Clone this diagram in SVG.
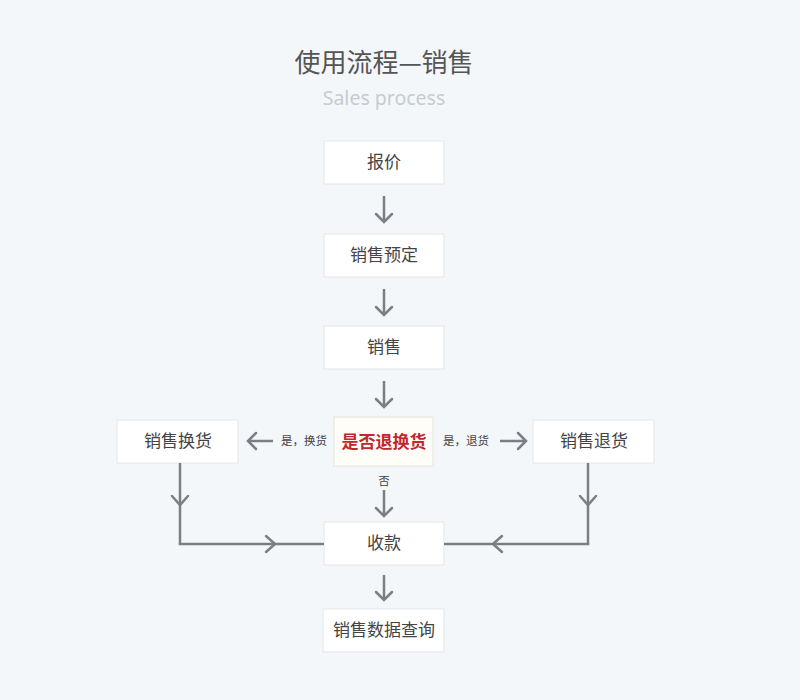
<svg xmlns="http://www.w3.org/2000/svg" width="800" height="700" viewBox="0 0 800 700">
<style>
.box{fill:#ffffff;stroke:#e1e5ea;stroke-width:1}
.t{font-family:"Noto Sans CJK SC","Noto Sans",sans-serif;font-size:17px;fill:#444;text-anchor:middle}
.lbl{font-family:"Noto Sans CJK SC","Noto Sans",sans-serif;font-size:11.5px;fill:#444;text-anchor:middle}
.ln{fill:none;stroke:#7b7f84;stroke-width:2.5;stroke-linecap:butt;stroke-linejoin:miter}
.hd{fill:none;stroke:#7b7f84;stroke-width:2.5;stroke-linecap:round;stroke-linejoin:miter}
</style>
<rect width="800" height="700" fill="#f4f7fa"/>
<text x="384" y="72" font-family="'Noto Sans CJK SC',sans-serif" font-size="26" fill="#555" text-anchor="middle">使用流程—销售</text>
<text x="384" y="105" font-family="'Noto Sans','Open Sans',sans-serif" font-size="19.5" fill="#c5cbd2" text-anchor="middle">Sales process</text>

<g id="n-quote"><rect class="box" x="324" y="141" width="120" height="43"/><text class="t" x="384" y="168">报价</text></g>
<g id="n-reserve"><rect class="box" x="324" y="234" width="120" height="43"/><text class="t" x="384" y="261">销售预定</text></g>
<g id="n-sale"><rect class="box" x="324" y="326" width="120" height="43"/><text class="t" x="384" y="353">销售</text></g>
<g id="n-decide"><rect x="334" y="417" width="99" height="49" fill="#fffdf8" stroke="#e8e4dc"/><text x="384" y="448" font-family="'Noto Sans CJK SC',sans-serif" font-size="17" font-weight="bold" fill="#c1272d" text-anchor="middle">是否退换货</text></g>
<g id="n-exchange"><rect class="box" x="117" y="420" width="121" height="43"/><text class="t" x="178" y="447">销售换货</text></g>
<g id="n-return"><rect class="box" x="533" y="420" width="121" height="43"/><text class="t" x="594" y="447">销售退货</text></g>
<g id="n-pay"><rect class="box" x="324" y="522" width="120" height="43"/><text class="t" x="384" y="549">收款</text></g>
<g id="n-query"><rect class="box" x="323" y="609" width="121" height="43"/><text class="t" x="384" y="636">销售数据查询</text></g>

<g id="connectors">
<path class="ln" d="M384 196V222"/><path class="hd" d="M376 214L384 222L392 214"/>
<path class="ln" d="M384 289V315"/><path class="hd" d="M376 307L384 315L392 307"/>
<path class="ln" d="M384 381V407"/><path class="hd" d="M376 399L384 407L392 399"/>
<path class="ln" d="M384 490V516"/><path class="hd" d="M376 508L384 516L392 508"/>
<path class="ln" d="M384 575V600"/><path class="hd" d="M376 592L384 600L392 592"/>
<path class="ln" d="M273 441H248"/><path class="hd" d="M256 433L248 441L256 449"/>
<path class="ln" d="M500 441H526"/><path class="hd" d="M518 433L526 441L518 449"/>
<path class="ln" d="M180 463V544H324"/>
<path class="hd" d="M172 496L180 505L188 496"/>
<path class="hd" d="M266 536L275 544L266 552"/>
<path class="ln" d="M588 463V544H444"/>
<path class="hd" d="M580 496L588 505L596 496"/>
<path class="hd" d="M502 536L493 544L502 552"/>
<text class="lbl" x="304" y="445">是，换货</text>
<text class="lbl" x="466" y="445">是，退货</text>
<text class="lbl" x="384" y="485">否</text>
</g>
</svg>
